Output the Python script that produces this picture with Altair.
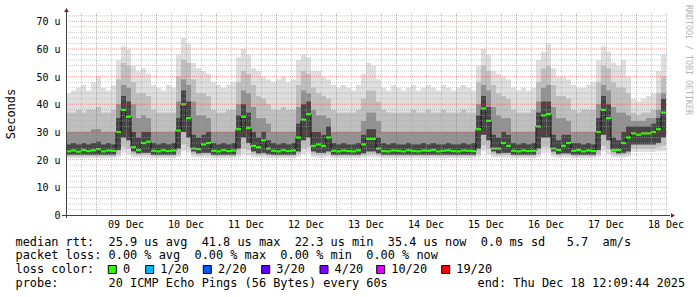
import altair as alt
import pandas as pd

# ---------------- data (2-hour samples, 08 Dec 12:09 -> 18 Dec 12:09), values in microseconds
med = [
    23.0, 23.3, 22.9, 23.5, 23.1, 23.4, 23.8, 23.0, 23.3, 23.2,
    30.0, 38.0, 35.5, 24.5, 23.5, 26.0, 26.5, 23.2, 23.0, 23.4,
    23.1, 23.3, 30.5, 40.0, 35.0, 24.0, 23.8, 25.5, 26.0, 23.2,
    23.0, 23.4, 23.1, 23.3, 31.0, 35.5, 31.5, 25.0, 24.5, 27.0,
    24.0, 23.2, 23.0, 23.4, 23.1, 23.3, 28.0, 34.5, 36.5, 25.0,
    25.5, 25.0, 28.0, 23.2, 23.0, 23.3, 23.1, 23.0, 23.4, 25.5,
    27.5, 27.5, 24.0, 23.1, 23.0, 23.3, 23.2, 23.0, 23.4, 23.1,
    23.0, 23.3, 23.2, 23.5, 23.0, 23.2, 23.4, 23.1, 23.0, 23.3,
    23.2, 23.1, 31.0, 38.5, 34.0, 24.0, 24.0, 26.0, 25.0, 23.2,
    23.0, 23.3, 23.1, 23.2, 32.0, 36.0, 36.5, 24.0, 23.5, 25.0,
    26.0, 23.2, 23.5, 23.0, 23.3, 23.1, 30.0, 38.0, 35.0, 23.5,
    23.5, 26.0, 28.0, 29.5, 29.0, 29.5, 29.5, 30.0, 31.0, 37.0,
]
hi = [
    44, 45, 46, 47, 45, 48, 50, 46, 45, 47,
    56, 61, 60, 54, 52, 53, 51, 47, 46, 45,
    47, 46, 58, 64, 62, 55, 53, 52, 51, 48,
    47, 46, 47, 48, 57, 60, 58, 53, 52, 50,
    49, 48, 49, 50, 48, 49, 56, 58, 57, 52,
    52, 50, 49, 47, 46, 47, 46, 45, 47, 51,
    55, 54, 49, 46, 45, 47, 46, 45, 46, 47,
    45, 46, 47, 46, 45, 47, 46, 45, 46, 47,
    46, 45, 54, 60, 58, 52, 51, 50, 49, 46,
    45, 46, 45, 46, 56, 59, 62, 53, 50, 50,
    49, 47, 46, 46, 47, 48, 56, 61, 59, 55,
    54, 56, 50, 42, 41, 42, 43, 44, 52, 58,
]
mid = [
    37, 37, 38, 37, 38, 38, 39, 37, 37, 38,
    49, 55, 54, 48, 44, 44, 43, 38, 37, 37,
    37, 37, 50, 56, 55, 49, 44, 44, 43, 38,
    37, 37, 38, 38, 48, 52, 51, 47, 43, 42,
    40, 38, 38, 39, 38, 38, 47, 52, 51, 46,
    44, 43, 42, 38, 37, 37, 37, 37, 38, 42,
    45, 45, 41, 38, 37, 37, 37, 37, 37, 38,
    37, 37, 38, 37, 37, 38, 37, 37, 37, 38,
    37, 37, 48, 54, 52, 47, 44, 43, 42, 38,
    37, 37, 37, 38, 48, 53, 54, 47, 43, 43,
    42, 38, 37, 38, 38, 38, 48, 54, 53, 48,
    46, 46, 44, 37, 36, 37, 37, 38, 44, 50,
]
dk = [
    30, 30, 30, 30, 30, 31, 31, 30, 30, 30,
    40, 47, 46, 40, 35, 36, 35, 30, 30, 30,
    30, 30, 41, 49, 47, 41, 36, 36, 35, 30,
    30, 30, 30, 30, 40, 45, 44, 39, 35, 35,
    33, 30, 30, 30, 30, 30, 39, 45, 44, 38,
    36, 36, 35, 30, 30, 30, 30, 30, 30, 34,
    37, 37, 34, 30, 30, 30, 30, 30, 30, 30,
    30, 30, 30, 30, 30, 30, 30, 30, 30, 30,
    30, 30, 40, 47, 45, 39, 36, 35, 35, 30,
    30, 30, 30, 30, 41, 46, 47, 39, 35, 35,
    34, 30, 30, 30, 30, 30, 40, 47, 45, 39,
    37, 37, 36, 34, 34, 34, 35, 35, 38, 44,
]
ctop = [
    25.5, 26.0, 25.5, 26.0, 25.5, 26.0, 26.5, 25.5, 26.0, 25.5,
    35.0, 43.0, 41.0, 30.0, 28.0, 30.0, 30.0, 26.0, 25.5, 26.0,
    25.5, 26.0, 35.0, 45.0, 41.0, 29.0, 28.0, 29.0, 30.0, 26.0,
    25.5, 26.0, 25.5, 26.0, 36.0, 40.0, 37.0, 30.0, 28.0, 30.0,
    27.0, 26.0, 25.5, 26.0, 25.5, 26.0, 33.0, 40.0, 41.0, 30.0,
    30.0, 29.0, 32.0, 26.0, 25.5, 26.0, 25.5, 25.5, 26.0, 29.0,
    31.0, 31.0, 28.0, 26.0, 25.5, 26.0, 25.5, 25.5, 26.0, 25.5,
    25.5, 26.0, 25.5, 26.0, 25.5, 25.5, 26.0, 25.5, 25.5, 26.0,
    25.5, 26.0, 36.0, 43.0, 39.0, 29.0, 28.0, 30.0, 29.0, 26.0,
    25.5, 26.0, 25.5, 26.0, 37.0, 41.0, 41.0, 29.0, 27.0, 29.0,
    29.0, 26.0, 26.0, 25.5, 26.0, 25.5, 35.0, 43.0, 40.0, 28.0,
    27.0, 30.0, 32.0, 32.0, 32.0, 32.0, 32.0, 33.0, 35.0, 42.0,
]
lo3 = [
    21.8, 21.8, 21.8, 21.8, 21.8, 21.8, 21.8, 21.8, 21.8, 21.8,
    23.5, 28.0, 27.0, 23.0, 22.3, 22.5, 22.5, 21.8, 21.8, 21.8,
    21.8, 21.8, 24.0, 30.0, 28.0, 23.0, 22.3, 22.5, 22.5, 21.8,
    21.8, 21.8, 21.8, 21.8, 24.0, 28.0, 26.0, 23.0, 22.3, 22.5,
    22.0, 21.8, 21.8, 21.8, 21.8, 21.8, 23.0, 27.0, 28.0, 23.0,
    22.5, 22.5, 23.0, 21.8, 21.8, 21.8, 21.8, 21.8, 21.8, 22.3,
    23.0, 23.0, 22.3, 21.8, 21.8, 21.8, 21.8, 21.8, 21.8, 21.8,
    21.8, 21.8, 21.8, 21.8, 21.8, 21.8, 21.8, 21.8, 21.8, 21.8,
    21.8, 21.8, 24.0, 29.0, 27.0, 23.0, 22.3, 22.5, 22.5, 21.8,
    21.8, 21.8, 21.8, 21.8, 24.0, 28.0, 28.0, 23.0, 22.0, 22.3,
    22.3, 21.8, 21.8, 21.8, 21.8, 21.8, 23.5, 29.0, 27.0, 23.0,
    22.3, 22.5, 23.0, 25.5, 25.5, 25.5, 25.5, 25.5, 26.0, 28.0,
]
lo2 = [
    21.2, 21.2, 21.2, 21.2, 21.2, 21.2, 21.2, 21.2, 21.2, 21.2,
    22.0, 24.5, 24.0, 22.0, 21.6, 21.7, 21.7, 21.2, 21.2, 21.2,
    21.2, 21.2, 22.0, 25.5, 24.5, 22.0, 21.6, 21.7, 21.7, 21.2,
    21.2, 21.2, 21.2, 21.2, 22.0, 24.0, 23.5, 22.0, 21.6, 21.7,
    21.4, 21.2, 21.2, 21.2, 21.2, 21.2, 22.0, 24.0, 24.5, 22.0,
    21.7, 21.7, 22.0, 21.2, 21.2, 21.2, 21.2, 21.2, 21.2, 21.6,
    22.0, 22.0, 21.6, 21.2, 21.2, 21.2, 21.2, 21.2, 21.2, 21.2,
    21.2, 21.2, 21.2, 21.2, 21.2, 21.2, 21.2, 21.2, 21.2, 21.2,
    21.2, 21.2, 22.0, 25.0, 24.0, 22.0, 21.6, 21.7, 21.7, 21.2,
    21.2, 21.2, 21.2, 21.2, 22.0, 24.5, 24.5, 22.0, 21.5, 21.6,
    21.6, 21.2, 21.2, 21.2, 21.2, 21.2, 22.0, 25.0, 24.0, 22.0,
    21.6, 21.7, 22.0, 24.0, 24.0, 24.0, 24.0, 24.0, 24.5, 25.0,
]
lo1 = [
    20.5, 20.5, 20.5, 20.5, 20.5, 20.5, 20.5, 20.5, 20.5, 20.5,
    21.0, 22.5, 22.0, 21.0, 20.8, 20.8, 20.8, 20.5, 20.5, 20.5,
    20.5, 20.5, 21.0, 23.0, 22.5, 21.0, 20.8, 20.8, 20.8, 20.5,
    20.5, 20.5, 20.5, 20.5, 21.0, 22.0, 21.5, 21.0, 20.8, 20.8,
    20.6, 20.5, 20.5, 20.5, 20.5, 20.5, 21.0, 22.0, 22.5, 21.0,
    20.8, 20.8, 21.0, 20.5, 20.5, 20.5, 20.5, 20.5, 20.5, 20.8,
    21.0, 21.0, 20.8, 20.5, 20.5, 20.5, 20.5, 20.5, 20.5, 20.5,
    20.5, 20.5, 20.5, 20.5, 20.5, 20.5, 20.5, 20.5, 20.5, 20.5,
    20.5, 20.5, 21.0, 23.0, 22.0, 21.0, 20.8, 20.8, 20.8, 20.5,
    20.5, 20.5, 20.5, 20.5, 21.0, 22.5, 22.5, 21.0, 20.7, 20.8,
    20.8, 20.5, 20.5, 20.5, 20.5, 20.5, 21.0, 23.0, 22.0, 21.0,
    20.8, 20.8, 21.0, 22.8, 22.8, 22.8, 22.8, 22.8, 23.0, 23.0,
]

day_label_hours = [24, 48, 72, 96, 120, 144, 168, 192, 216, 240]
day_labels = ["09 Dec", "10 Dec", "11 Dec", "12 Dec", "13 Dec",
              "14 Dec", "15 Dec", "16 Dec", "17 Dec", "18 Dec"]
y_tick_values = [0, 10, 20, 30, 40, 50, 60, 70]
y_tick_labels = ["0  ", "10 u", "20 u", "30 u", "40 u", "50 u", "60 u", "70 u"]
major_h = [10, 20, 30, 40, 50, 60, 70]
minor_h = [2, 4, 6, 8, 12, 14, 16, 18, 22, 24, 26, 28, 32, 34, 36, 38, 42, 44, 46, 48,
           52, 54, 56, 58, 62, 64, 66, 68, 72]
major_v = [12, 36, 60, 84, 108, 132, 156, 180, 204, 228]
minor_v = [6, 18, 24, 30, 42, 48, 54, 66, 72, 78, 90, 96, 102, 114, 120, 126, 138, 144,
           150, 162, 168, 174, 186, 192, 198, 210, 216, 222, 234, 240]

loss_labels = ["0", "1/20", "2/20", "3/20", "4/20", "10/20", "19/20"]
loss_colors = ["#26ff00", "#00b8ff", "#0059ff", "#5e00ff", "#7e00ff", "#dd00ff", "#ff0000"]

legend_lines = [
    "median rtt:  25.9 us avg  41.8 us max  22.3 us min  35.4 us now  0.0 ms sd   5.7  am/s",
    "packet loss: 0.00 % avg  0.00 % max  0.00 % min  0.00 % now",
    "loss color:",
    "probe:       20 ICMP Echo Pings (56 Bytes) every 60s",
]
end_text = "end: Thu Dec 18 12:09:44 2025"
y_title = "Seconds"
watermark = "RRDTOOL / TOBI OETIKER"

# ---------------- layout
W, H = 602, 202
PAD_L, PAD_T = 66, 13
FONT = "DejaVu Sans Mono"
STEP_H = 2
sq_x = [108.3, 145.7, 203.3, 261.7, 320.0, 376.7, 441.7]
line_base = [245.5, 259.4, 273.4, 287.3]


def nb(s):
    return s.replace(" ", "\u00a0")


n = len(med)
smoke = pd.DataFrame({
    "t0": [i * STEP_H for i in range(n)],
    "t1": [(i + 1) * STEP_H for i in range(n)],
    "med": med, "hi": hi, "mid": mid, "dk": dk, "ctop": ctop,
    "lo3": lo3, "lo2": lo2, "lo1": lo1,
})
med_line = pd.DataFrame({
    "t": [i * STEP_H for i in range(n)] + [n * STEP_H],
    "med": med + [med[-1]],
})

xs = alt.Scale(domain=[0, 240.8], nice=False, zero=False)
ys = alt.Scale(domain=[0, 73], nice=False, zero=True)
base = alt.Chart(smoke)


def band(lo, top, color):
    return base.mark_rect(color=color, strokeWidth=0).encode(
        x=alt.X("t0:Q", scale=xs, axis=None), x2="t1:Q",
        y=alt.Y(f"{lo}:Q", scale=ys, axis=None), y2=f"{top}:Q")


layers = [
    band("lo1", "hi", "#dedede"),
    band("lo2", "mid", "#bfbfbf"),
    band("lo3", "dk", "#919191"),
    band("lo3", "ctop", "#464646"),
]

layers.append(alt.Chart(med_line).mark_line(interpolate="step-after", color="#111111",
                                            strokeWidth=1).encode(
    x=alt.X("t:Q", scale=xs, axis=None), y=alt.Y("med:Q", scale=ys, axis=None)))
layers.append(base.mark_rule(color="#26ff00", strokeWidth=2.2).encode(
    x=alt.X("t0:Q", scale=xs, axis=None), x2="t1:Q",
    y=alt.Y("med:Q", scale=ys, axis=None)))


# grid (on top, dotted)
def hgrid(vals, color, op):
    return alt.Chart(pd.DataFrame({"v": vals})).mark_rule(
        color=color, opacity=op, strokeDash=[1, 1], strokeWidth=1).encode(
        y=alt.Y("v:Q", scale=ys, axis=None), x=alt.value(0), x2=alt.value(W))


def vgrid(vals, color, op):
    return alt.Chart(pd.DataFrame({"v": vals})).mark_rule(
        color=color, opacity=op, strokeDash=[1, 1], strokeWidth=1, xOffset=0.5).encode(
        x=alt.X("v:Q", scale=xs, axis=None), y=alt.value(0), y2=alt.value(H))


layers += [
    hgrid(minor_h, "#a0a0a0", 0.55),
    vgrid(minor_v, "#a0a0a0", 0.55),
    hgrid(major_h, "#d83030", 0.45),
    vgrid(major_v, "#d83030", 0.45),
]

one = pd.DataFrame({"k": [0]})
# axes lines
layers.append(alt.Chart(one).mark_rule(color="#404040", strokeWidth=1, xOffset=0.5).encode(
    x=alt.value(0), y=alt.value(-2), y2=alt.value(H + 3)))
layers.append(alt.Chart(one).mark_rule(color="#404040", strokeWidth=1, yOffset=0.5).encode(
    y=alt.value(H), x=alt.value(-4), x2=alt.value(W + 2)))
# arrows
layers.append(alt.Chart(one).mark_point(shape="triangle-up", filled=True, color="#8b1a1a",
                                        size=22, opacity=1).encode(
    x=alt.value(0.5), y=alt.value(-3)))
layers.append(alt.Chart(one).mark_point(shape="triangle-right", filled=True, color="#8b1a1a",
                                        size=22, opacity=1).encode(
    x=alt.value(W + 5), y=alt.value(H + 0.5)))

# tick labels
layers.append(alt.Chart(pd.DataFrame({"v": y_tick_values,
                                      "lab": [nb(s) for s in y_tick_labels]})).mark_text(
    align="right", baseline="alphabetic", dy=4, font=FONT, fontSize=10, color="#000000").encode(
    y=alt.Y("v:Q", scale=ys, axis=None), x=alt.value(-5.5), text="lab:N"))
layers.append(alt.Chart(pd.DataFrame({"v": day_label_hours, "lab": day_labels})).mark_text(
    align="center", baseline="alphabetic", font=FONT, fontSize=10, color="#000000").encode(
    x=alt.X("v:Q", scale=xs, axis=None), y=alt.value(228.3 - PAD_T), text="lab:N"))

# y title and watermark
layers.append(alt.Chart(one).mark_text(text=y_title, angle=270, align="center", baseline="middle",
                                       font=FONT, fontSize=12, color="#000000").encode(
    x=alt.value(10.7 - PAD_L), y=alt.value(114 - PAD_T)))
layers.append(alt.Chart(one).mark_text(text=nb(watermark), angle=90, align="center",
                                       baseline="middle", font=FONT, fontSize=8.3,
                                       color="#b4b4b4").encode(
    x=alt.value(688 - PAD_L), y=alt.value(60 - PAD_T)))

# legend text lines
for s, yb in zip(legend_lines, line_base):
    layers.append(alt.Chart(one).mark_text(text=nb(s), align="left", baseline="alphabetic",
                                           font=FONT, fontSize=11.9, color="#000000").encode(
        x=alt.value(15.5 - PAD_L), y=alt.value(yb - PAD_T)))
layers.append(alt.Chart(one).mark_text(text=nb(end_text), align="left", baseline="alphabetic",
                                       font=FONT, fontSize=11.9, color="#000000").encode(
    x=alt.value(477.5 - PAD_L), y=alt.value(line_base[3] - PAD_T)))

# loss colour squares
sq = pd.DataFrame({
    "x0": [v - PAD_L for v in sq_x],
    "x1": [v - PAD_L + 8 for v in sq_x],
    "lx": [v - PAD_L + 14.6 for v in sq_x],
    "col": loss_colors,
    "lab": loss_labels,
})
layers.append(alt.Chart(sq).mark_rect(stroke="#000000", strokeWidth=1).encode(
    x=alt.X("x0:Q", scale=None), x2="x1:Q",
    y=alt.value(265.5 - PAD_T), y2=alt.value(273.5 - PAD_T),
    fill=alt.Fill("col:N", scale=None)))
layers.append(alt.Chart(sq).mark_text(align="left", baseline="alphabetic", font=FONT,
                                      fontSize=11.9, color="#000000").encode(
    x=alt.X("lx:Q", scale=None), y=alt.value(line_base[2] - PAD_T), text="lab:N"))

chart = alt.layer(*layers).properties(
    width=W, height=H,
    padding={"left": PAD_L, "top": PAD_T, "right": 697 - PAD_L - W, "bottom": 297 - PAD_T - H},
    autosize=alt.AutoSizeParams(type="none"),
    background="#ffffff",
).configure_view(stroke=None)

chart.save("out.html", embed_options={"renderer": "svg", "actions": False})
